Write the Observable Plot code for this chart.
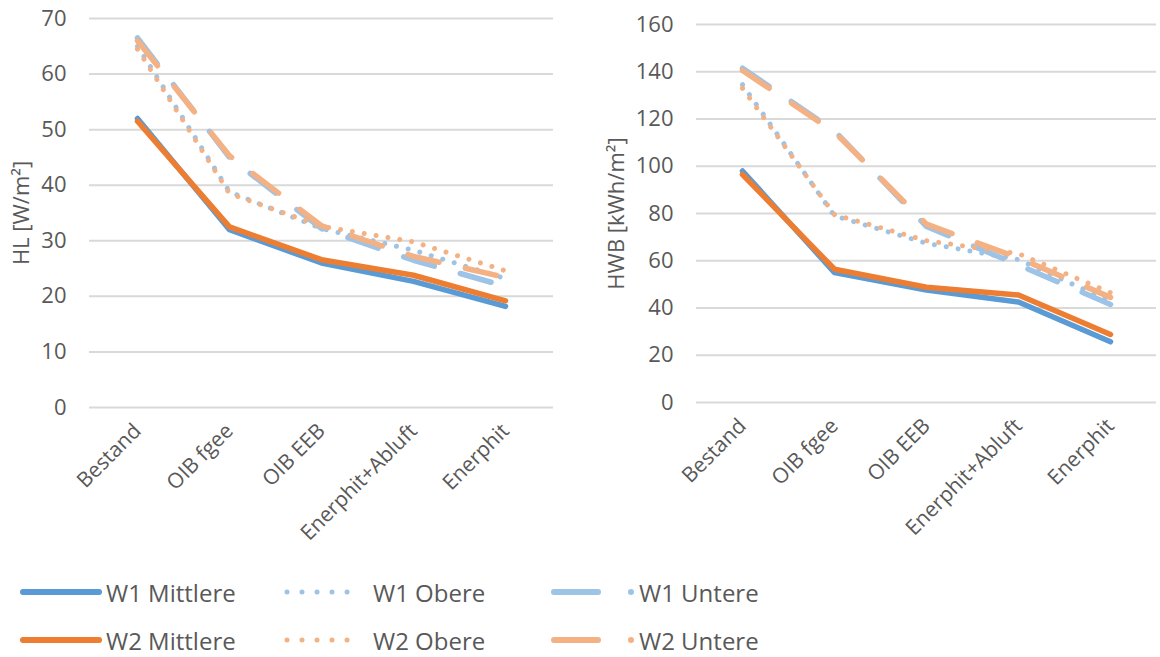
<!DOCTYPE html>
<html><head><meta charset="utf-8">
<script src="https://cdn.jsdelivr.net/npm/d3@7"></script>
<script src="https://cdn.jsdelivr.net/npm/@observablehq/plot@0.6"></script>
<style>
body{margin:0;background:#fff;font-family:"Open Sans",sans-serif;}
#wrap{position:relative;width:1160px;height:657px;overflow:hidden;background:#fff}
#charts{display:flex;position:absolute;left:0;top:0}
.lg{position:absolute;display:flex;align-items:center;font-size:24px;color:#595959;white-space:nowrap;height:30px}
.lg svg{display:block}
</style></head><body>
<div id="wrap"><div id="charts"></div><div id="legend"></div></div>
<script>
const categories = ["Bestand", "OIB fgee", "OIB EEB", "Enerphit+Abluft", "Enerphit"];
const seriesNames = ["W1 Mittlere", "W1 Obere", "W1 Untere", "W2 Mittlere", "W2 Obere", "W2 Untere"];

// HL [W/m²]
const hlW1Mittlere = [52, 32, 26, 22.7, 18.2];
const hlW1Obere    = [65, 38.8, 32.2, 28.3, 23.2];
const hlW1Untere   = [66.5, 45, 32.2, 26.5, 21.8];
const hlW2Mittlere = [51.5, 32.5, 26.6, 23.8, 19.2];
const hlW2Obere    = [64.5, 38.5, 32.6, 29.8, 24.6];
const hlW2Untere   = [66, 45.3, 32.7, 27.2, 23.4];

// HWB [kWh/m²]
const hwbW1Mittlere = [98, 55, 47.6, 42.5, 25.7];
const hwbW1Obere    = [134.5, 79, 67.4, 60.5, 42.8];
const hwbW1Untere   = [141.5, 115, 74.5, 58.2, 41.5];
const hwbW2Mittlere = [96.5, 56.4, 48.8, 45.5, 28.8];
const hwbW2Obere    = [133, 79.5, 68.5, 63, 46.5];
const hwbW2Untere   = [140.5, 114.5, 75.5, 61.2, 44.5];

const hlTicks = [0, 10, 20, 30, 40, 50, 60, 70];
const hwbTicks = [0, 20, 40, 60, 80, 100, 120, 140, 160];

const hlSeries = [hlW1Mittlere, hlW1Obere, hlW1Untere, hlW2Mittlere, hlW2Obere, hlW2Untere];
const hwbSeries = [hwbW1Mittlere, hwbW1Obere, hwbW1Untere, hwbW2Mittlere, hwbW2Obere, hwbW2Untere];

const colors = ["#5B9BD5", "#9DC3E6", "#9DC3E6", "#ED7D31", "#F4B183", "#F4B183"];
const widths = [5.5, 5, 5.5, 5.5, 5, 5.5];
const dashes = [null, "0.01 12", "32 27", null, "0.01 12", "32 27"];

const TXT = "#595959";

function lineMarks(seriesArr) {
  return seriesArr.map((vals, i) => {
    const data = categories.map((c, j) => ({cat: c, v: vals[j]}));
    return Plot.line(data, {
      x: "cat", y: "v", stroke: colors[i], strokeWidth: widths[i],
      strokeDasharray: dashes[i], strokeLinecap: "round", strokeLinejoin: "round"
    });
  });
}

function chart({seriesArr, ticks, yMax, title, marginLeft, marginRight, marginTop, marginBottom, titleDx}) {
  return Plot.plot({
    width: 580, height: 560,
    marginLeft, marginRight, marginTop, marginBottom,
    style: {fontFamily: "'Open Sans', sans-serif", color: TXT, background: "transparent", overflow: "visible"},
    x: {type: "point", domain: categories, padding: 0.5},
    y: {domain: [0, yMax]},
    marks: [
      Plot.ruleY(ticks, {stroke: "#d9d9d9", strokeWidth: 2}),
      Plot.axisY({ticks, tickSize: 0, tickPadding: 23, label: null, fontSize: 22, fill: TXT}),
      Plot.axisX({tickRotate: -45, tickSize: 0, tickPadding: 20, dx: 0, label: null, fontSize: 21, fill: TXT}),
      Plot.text([title], {frameAnchor: "left", rotate: -90, dx: titleDx, fontSize: 22, fill: TXT, textAnchor: "middle", lineAnchor: "middle"}),
      ...lineMarks(seriesArr)
    ]
  });
}

const charts = document.getElementById("charts");
charts.append(chart({seriesArr: hlSeries, ticks: hlTicks, yMax: 70, title: "HL [W/m²]",
  marginLeft: 89, marginRight: 27, marginTop: 18, marginBottom: 153, titleDx: -68}));
charts.append(chart({seriesArr: hwbSeries, ticks: hwbTicks, yMax: 160, title: "HWB [kWh/m²]",
  marginLeft: 116, marginRight: 4, marginTop: 24, marginBottom: 158, titleDx: -80}));

// legend
const legend = document.getElementById("legend");
const colX = [20, 283, 551];
const colW = [82, 80, 84];
const rowY = [592, 640];
seriesNames.forEach((name, i) => {
  const row = i < 3 ? 0 : 1, col = i % 3;
  const div = document.createElement("div");
  div.className = "lg";
  div.style.left = colX[col] + "px";
  div.style.top = (rowY[row] - 15) + "px";
  const w = colW[col];
  let sample;
  if (col === 0) {
    sample = `<line x1="3" y1="15" x2="${w-3}" y2="15" stroke="${colors[i]}" stroke-width="6" stroke-linecap="round"/>`;
  } else if (col === 1) {
    sample = `<line x1="4" y1="15" x2="${w-1}" y2="15" stroke="${colors[i]}" stroke-width="5" stroke-linecap="round" stroke-dasharray="0.01 15"/>`;
  } else {
    sample = `<line x1="3" y1="15" x2="${w-3}" y2="15" stroke="${colors[i]}" stroke-width="6" stroke-linecap="round" stroke-dasharray="44 33 0.01 100"/>`;
  }
  div.innerHTML = `<svg width="${w}" height="30">${sample}</svg><span style="margin-left:${col===2?4:(col===1?10:4)}px">${name}</span>`;
  legend.append(div);
});
</script>
</body></html>
